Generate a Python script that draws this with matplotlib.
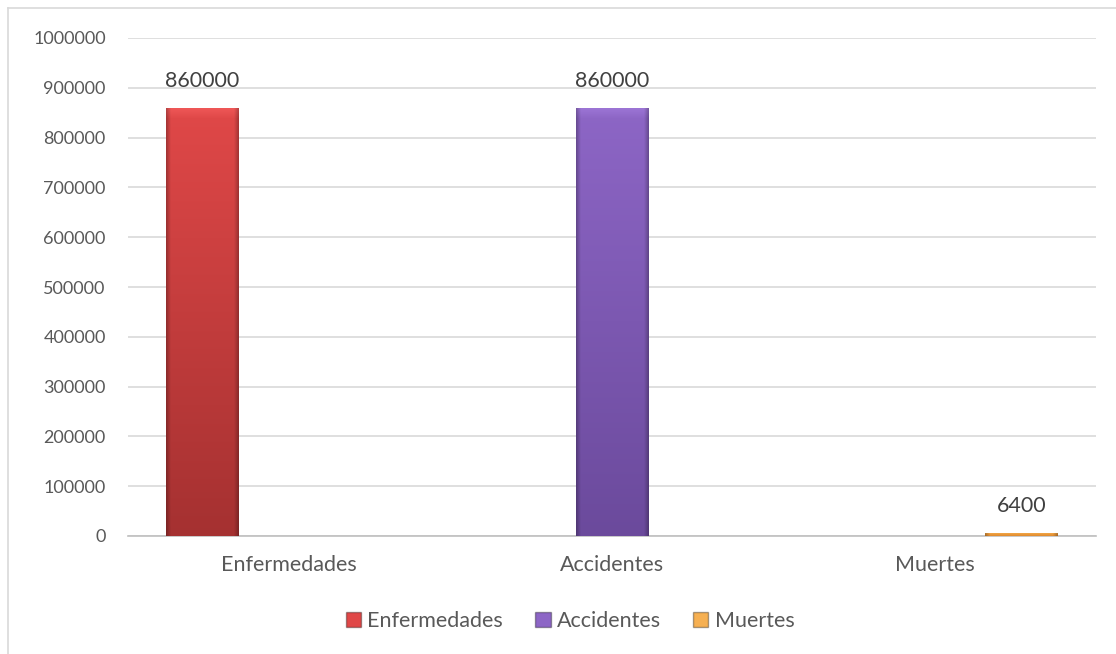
import numpy as np
import matplotlib
matplotlib.use("Agg")
import matplotlib.pyplot as plt
from matplotlib.lines import Line2D
from matplotlib.colors import to_rgb

categories = ["Enfermedades", "Accidentes", "Muertes"]
series = ["Enfermedades", "Accidentes", "Muertes"]
values = [860000, 860000, 6400]
yticks = [0, 100000, 200000, 300000, 400000, 500000, 600000, 700000, 800000, 900000, 1000000]

# top / bottom colours for the shaded bars
top_cols = ["#e04848", "#8d66c6", "#f6b052"]
bot_cols = ["#a53131", "#6b4a9c", "#e0892c"]

plt.rcParams["font.family"] = ["Lato", "DejaVu Sans"]
text_col = "#595959"

fig = plt.figure(figsize=(11.16, 6.54), dpi=100)
ax = fig.add_axes([128 / 1116, (654 - 536) / 654, 968 / 1116, 498 / 654])

width = 0.226
offsets = [-0.27, 0.0, 0.27]
x = np.arange(len(categories))

bars = []
for i, name in enumerate(series):
    b = ax.bar(x[i] + offsets[i], values[i], width, color=bot_cols[i],
               edgecolor="none", label=name, zorder=2)
    bars.append(b)

def shade(top, bot):
    # vertical gradient, darker sides and a soft lighter top edge
    t = np.array(to_rgb(top))
    b = np.array(to_rgb(bot))
    ny, nx = 200, 60
    f = np.linspace(0, 1, ny)[:, None, None]
    img = t * (1 - f) + b * f
    img = np.repeat(img, nx, axis=1)
    xs = np.linspace(0, 1, nx)
    side = np.clip(1 - np.minimum(xs, 1 - xs) / 0.06, 0, 1) * 0.25
    img = img * (1 - side[None, :, None])
    fade = np.linspace(0.06, 0, 6)[:, None, None]
    img[:6] = np.clip(img[:6] + fade, 0, 1)
    return img

for i, b in enumerate(bars):
    p = b.patches[0]
    x0, w, h = p.get_x(), p.get_width(), p.get_height()
    im = ax.imshow(shade(top_cols[i], bot_cols[i]), extent=[x0, x0 + w, 0, h],
                   aspect="auto", zorder=3, interpolation="bilinear")
    im.set_clip_path(p)
    ax.annotate(f"{values[i]}", (x0 + w / 2, h), xytext=(0, 12),
                textcoords="offset points", ha="center", va="bottom",
                fontsize=15.5, color="#404040", zorder=4)

ax.set_xlim(-0.5, 2.5)
ax.set_ylim(0, 1000000)
ax.set_yticks(yticks)
ax.set_yticklabels([str(v) for v in yticks])
ax.set_xticks(x)
ax.set_xticklabels(categories, fontsize=15.5)
ax.grid(axis="y", color="#d9d9d9", linewidth=1.2, zorder=0)
ax.set_axisbelow(True)
for s in ["top", "right", "left"]:
    ax.spines[s].set_visible(False)
ax.spines["bottom"].set_color("#bfbfbf")
ax.spines["bottom"].set_linewidth(1.2)
ax.tick_params(axis="both", length=0, colors=text_col)
ax.tick_params(axis="y", pad=16, labelsize=13)
ax.tick_params(axis="x", pad=14)

leg = fig.legend(handles=[b.patches[0] for b in bars], labels=series,
                 loc="center", bbox_to_anchor=(0.511, (654 - 621) / 654), ncol=3,
                 frameon=False, fontsize=15.5, handlelength=0.7, handleheight=0.7,
                 handletextpad=0.3, columnspacing=1.5, labelcolor=text_col)
for h, c in zip(leg.legend_handles, top_cols):
    h.set_facecolor(c)
    h.set_edgecolor("#00000055")

# outer chart frame (only top and left edges fall inside the image)
fig.add_artist(Line2D([8 / 1116, 1], [1 - 8 / 654, 1 - 8 / 654], color="#d9d9d9", lw=1.2))
fig.add_artist(Line2D([8 / 1116, 8 / 1116], [0, 1 - 8 / 654], color="#d9d9d9", lw=1.2))

fig.savefig("out.png", dpi=100)
